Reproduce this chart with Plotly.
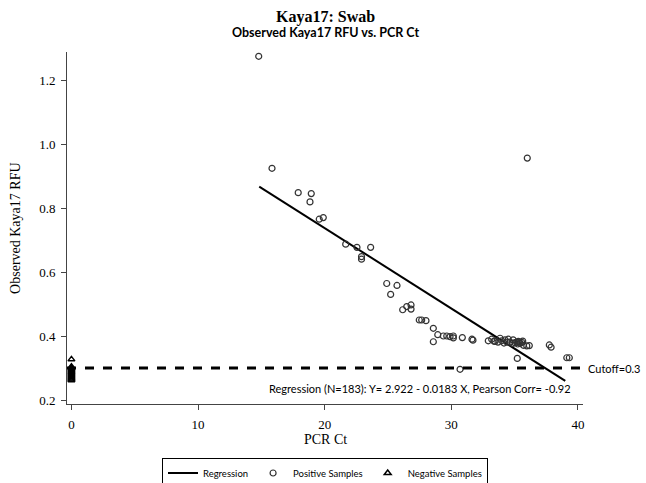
import plotly.graph_objects as go

# Positive samples (PCR Ct, observed RFU)
pos_ct = [14.79, 15.84, 17.91, 18.94, 18.84, 19.57, 19.89, 21.66, 22.55, 23.63,
          22.91, 22.91, 24.90, 25.71, 25.21, 26.16, 26.48, 26.82, 26.82, 27.47,
          27.66, 28.00, 28.58, 28.93, 28.58, 29.37, 29.64, 29.90, 30.16, 30.16,
          30.87, 31.63, 31.71, 30.69,
          32.92, 33.19, 33.45, 33.85, 33.98, 34.24, 34.50, 34.64, 34.85, 35.03,
          35.17, 35.29, 35.43, 35.56, 35.69, 35.96, 36.16, 33.37, 33.69, 34.16,
          34.40, 34.88, 35.25, 35.37, 35.64,
          37.74, 37.88, 35.21, 39.12, 39.32, 36.00]
pos_rfu = [1.274, 0.924, 0.848, 0.845, 0.819, 0.765, 0.770, 0.687, 0.677, 0.677,
           0.648, 0.640, 0.564, 0.558, 0.530, 0.482, 0.492, 0.497, 0.484, 0.450,
           0.450, 0.448, 0.424, 0.404, 0.382, 0.400, 0.400, 0.398, 0.400, 0.394,
           0.395, 0.390, 0.387, 0.296,
           0.385, 0.390, 0.383, 0.393, 0.385, 0.388, 0.390, 0.381, 0.377, 0.379,
           0.381, 0.383, 0.377, 0.380, 0.371, 0.369, 0.370, 0.384, 0.381, 0.378,
           0.381, 0.388, 0.375, 0.381, 0.384,
           0.372, 0.365, 0.330, 0.332, 0.332, 0.956]

# Negative samples (all at Ct = 0)
neg_ct = [0] * 16
neg_rfu = [0.327, 0.304, 0.300, 0.297, 0.294, 0.291, 0.288, 0.285, 0.282,
           0.279, 0.276, 0.273, 0.270, 0.267, 0.264, 0.262]

# Regression line endpoints (as drawn)
reg_ct = [14.83, 39.0]
reg_rfu = [0.867, 0.260]

cutoff = 0.3
x_ticks = [0, 10, 20, 30, 40]
y_ticks = [0.2, 0.4, 0.6, 0.8, 1.0, 1.2]

serif = "Liberation Serif"
sans = "Lato"

fig = go.Figure()
fig.add_trace(go.Scatter(x=reg_ct, y=reg_rfu, mode="lines", name="Regression",
                         line=dict(color="black", width=2)))
fig.add_trace(go.Scatter(x=pos_ct, y=pos_rfu, mode="markers", name="Positive Samples",
                         marker=dict(symbol="circle-open", size=6, color="#333333",
                                     line=dict(width=1.2))))
fig.add_trace(go.Scatter(x=neg_ct, y=neg_rfu, mode="markers", name="Negative Samples",
                         marker=dict(symbol="triangle-up-open", size=6, color="black",
                                     line=dict(width=1.5))))

fig.add_shape(type="line", xref="paper", x0=0, x1=1, yref="y", y0=cutoff, y1=cutoff,
              line=dict(color="black", width=3, dash="dash"))

fig.add_annotation(xref="paper", x=1.006, yref="y", y=cutoff, text="Cutoff=0.3",
                   showarrow=False, xanchor="left", yanchor="middle",
                   font=dict(family=sans, size=11, color="black"))
fig.add_annotation(xref="paper", x=0.98, yref="y", y=0.237,
                   text="Regression (N=183): Y= 2.922 - 0.0183 X, Pearson Corr= -0.92",
                   showarrow=False, xanchor="right", yanchor="middle",
                   font=dict(family=sans, size=11, color="black"))

# Titles
fig.add_annotation(xref="paper", x=0.5, yref="paper", y=1.099, text="<b>Kaya17: Swab</b>",
                   showarrow=False, xanchor="center", yanchor="middle",
                   font=dict(family=serif, size=16, color="black"))
fig.add_annotation(xref="paper", x=0.5, yref="paper", y=1.054,
                   text="<b>Observed Kaya17 RFU vs. PCR Ct</b>",
                   showarrow=False, xanchor="center", yanchor="middle",
                   font=dict(family=sans, size=12.5, color="black"))
# Axis titles
fig.add_annotation(xref="paper", x=-0.101, yref="paper", y=0.5, text="Observed Kaya17 RFU",
                   showarrow=False, xanchor="center", yanchor="middle", textangle=-90,
                   font=dict(family=serif, size=14, color="black"))
fig.add_annotation(xref="paper", x=0.5, yref="paper", y=-0.102, text="PCR Ct",
                   showarrow=False, xanchor="center", yanchor="middle",
                   font=dict(family=serif, size=14, color="black"))

fig.update_layout(
    width=646, height=483,
    margin=dict(l=67, r=63, t=52, b=79, autoexpand=False),
    paper_bgcolor="white", plot_bgcolor="white",
    showlegend=True,
    legend=dict(orientation="h", x=0.5, xanchor="center", y=-0.152, yanchor="top",
                bordercolor="black", borderwidth=1,
                font=dict(family=sans, size=9.5, color="black"),
                itemwidth=30, tracegroupgap=0),
    xaxis=dict(range=[-0.35, 40.4], tickvals=x_ticks, ticks="outside", ticklen=5,
               automargin=False, ticklabelstandoff=3,
               showgrid=False, zeroline=False, showline=True, linecolor="#444444",
               tickcolor="#444444",
               tickfont=dict(family=serif, size=13, color="black")),
    yaxis=dict(range=[0.1875, 1.2875], tickvals=y_ticks, tickformat=".1f",
               ticks="outside", ticklen=5, automargin=False, ticklabelstandoff=3,
               showgrid=False, zeroline=False, showline=True, linecolor="#444444",
               tickcolor="#444444",
               tickfont=dict(family=serif, size=13, color="black")),
)

fig.write_html("out.html", config={"displayModeBar": False},
               post_script="document.body.style.margin='0';")
